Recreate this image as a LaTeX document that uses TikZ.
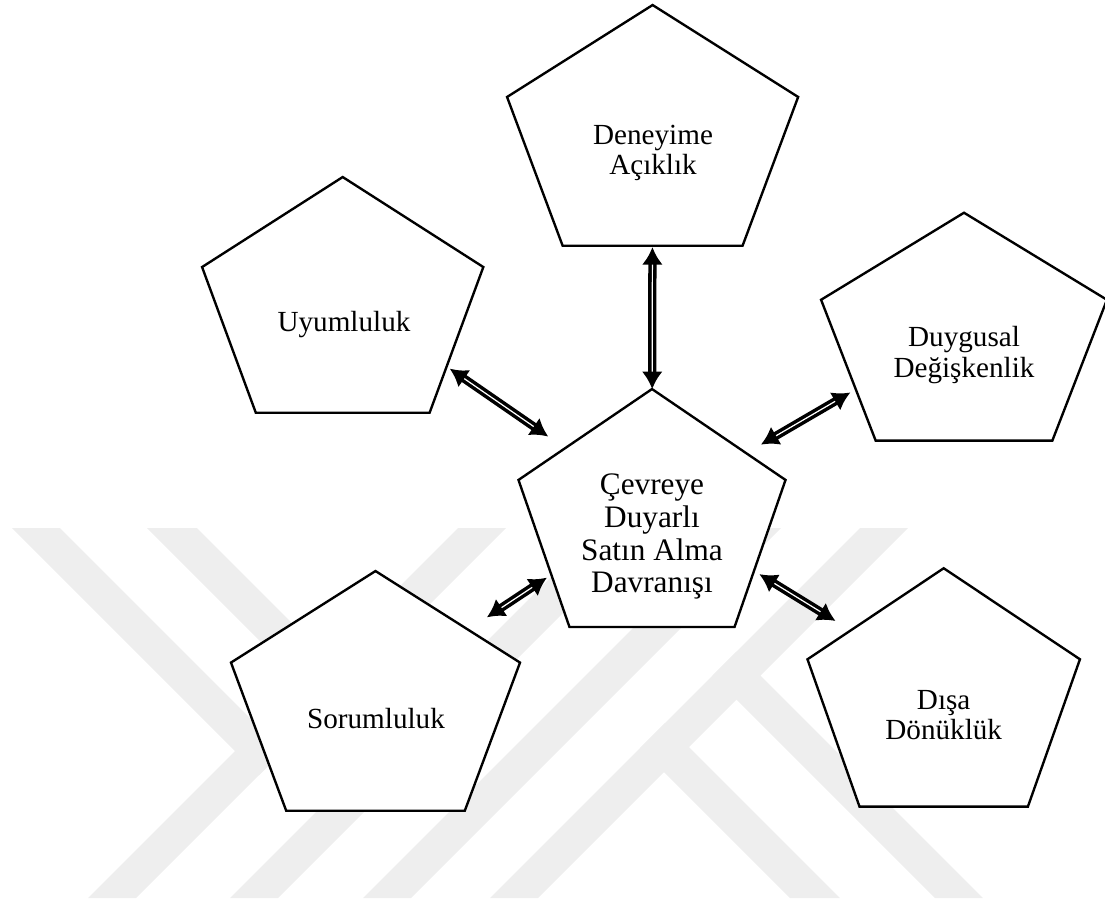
\documentclass[tikz,border=0pt]{standalone}
\usepackage{fontspec}
\setmainfont{Liberation Serif}
\usetikzlibrary{shapes.geometric,arrows.meta}
\definecolor{wmgray}{RGB}{238,238,238}

\begin{document}
\begin{tikzpicture}[
    x=0.02cm, y=-0.02cm,
    penta/.style={draw, line width=1.35pt, fill=white, regular polygon, regular polygon sides=5, inner sep=0pt},
    lbl/.style={align=center, inner sep=0pt, font=\fontsize{16.6}{17.2}\selectfont},
    link/.style={<->, >={Latex[length=10pt,width=12pt]}, double, double distance=0.7pt, line width=2pt, shorten >=2.52cm},
    wm/.style={fill=wmgray}
]
\useasboundingbox (0,0) rectangle (1105,904);

% ========== BACKGROUND: faint watermark ==========
\begin{scope}
    \clip (0,528) rectangle (1105,898);
    % rising bands
    \fill[wm] (88,898) -- (136,898) -- (506,528) -- (458,528) -- cycle;
    \fill[wm] (230,898) -- (278,898) -- (648,528) -- (600,528) -- cycle;
    \fill[wm] (363,898) -- (411,898) -- (781,528) -- (733,528) -- cycle;
    \fill[wm] (490,898) -- (538,898) -- (908,528) -- (860,528) -- cycle;
    % falling bands
    \fill[wm] (12,528) -- (60,528) -- (283,751) -- (259,775) -- cycle;
    \fill[wm] (147,528) -- (197,528) -- (422.5,753.5) -- (397.5,778.5) -- cycle;
    \fill[wm] (640,748) -- (665,723) -- (840,898) -- (790,898) -- cycle;
    \fill[wm] (712.5,675.5) -- (736.5,651.5) -- (983,898) -- (935,898) -- cycle;
\end{scope}

% ========== PENTAGONS ==========
\node[penta, minimum size=5.324cm, xscale=1.150] (den) at (652.6,138.1) {};
\node[penta, minimum size=5.212cm, xscale=1.135] (uyum) at (342.7,307.3) {};
\node[penta, minimum size=5.040cm, xscale=1.193] (duyg) at (964,338.7) {};
\node[penta, minimum size=5.264cm, xscale=1.067] (cevre) at (652,520.6) {};
\node[penta, minimum size=5.300cm, xscale=1.147] (sor) at (375.5,703.5) {};
\node[penta, minimum size=5.272cm, xscale=1.087] (disa) at (943.7,700) {};

% ========== LABELS ==========
\node[lbl] (den-t) at (653,153) {Deneyime\\Açıklık};
\node[lbl] (uyum-t) at (344,325) {Uyumluluk};
\node[lbl] (duyg-t) at (964,355) {Duygusal\\Değişkenlik};
\node[lbl, font=\fontsize{17.8}{18.6}\selectfont] (cevre-t) at (652,536.8) {Çevreye\\Duyarlı\\Satın Alma\\Davranışı};
\node[lbl] (sor-t) at (376,719) {Sorumluluk};
\node[lbl] (disa-t) at (943.7,715) {Dışa\\Dönüklük};

% ========== LINKS to the centre ==========
\draw[link, shorten <=2.43cm, shorten >=2.38cm] ([yshift=0.25cm]den.center) -- ([yshift=0.25cm]cevre.center);
\draw[link, shorten <=2.60cm] ([yshift=0.25cm]uyum.center) -- ([yshift=0.25cm]cevre.center);
\draw[link, shorten <=2.63cm] ([yshift=0.25cm]duyg.center) -- ([yshift=0.25cm]cevre.center);
\draw[link, shorten <=2.67cm] ([yshift=0.25cm]sor.center) -- ([yshift=0.25cm]cevre.center);
\draw[link, shorten <=2.54cm] ([yshift=0.25cm]disa.center) -- ([yshift=0.25cm]cevre.center);

\end{tikzpicture}
\end{document}
